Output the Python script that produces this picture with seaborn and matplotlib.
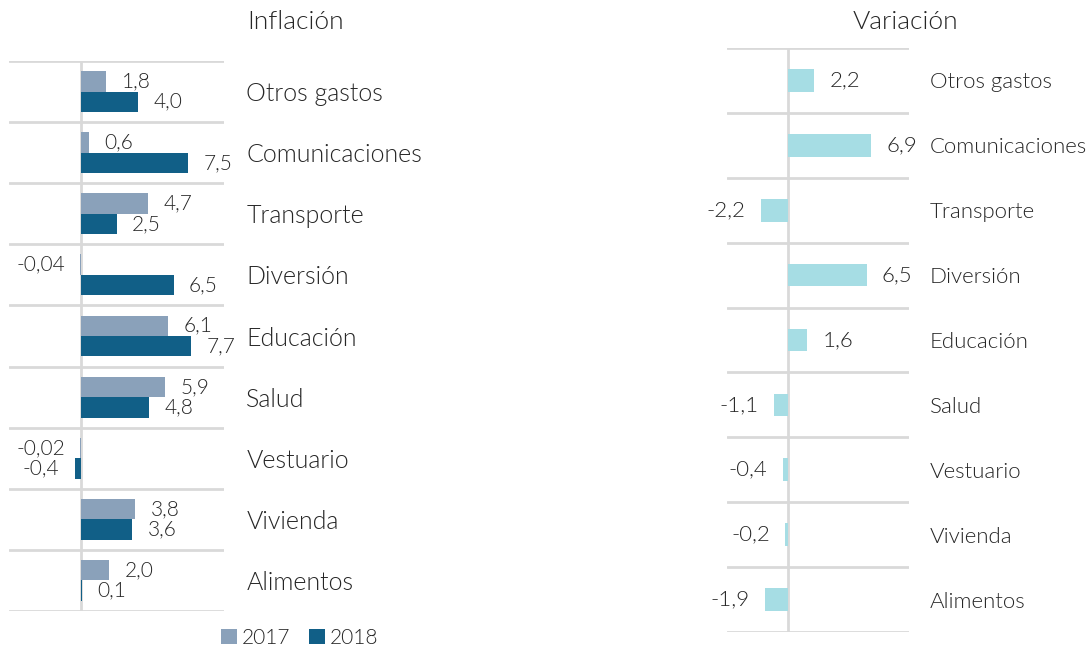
import matplotlib
matplotlib.use("Agg")
from matplotlib import pyplot as plt
import seaborn as sns
import pandas as pd

# categorias (de arriba hacia abajo)
categorias = ["Otros gastos", "Comunicaciones", "Transporte", "Diversión", "Educación",
              "Salud", "Vestuario", "Vivienda", "Alimentos"]
inflacion_2017 = [1.8, 0.6, 4.7, -0.04, 6.1, 5.9, -0.02, 3.8, 2.0]
inflacion_2018 = [4.0, 7.5, 2.5, 6.5, 7.7, 4.8, -0.4, 3.6, 0.1]
variacion = [2.2, 6.9, -2.2, 6.5, 1.6, -1.1, -0.4, -0.2, -1.9]
anios = ["2017", "2018"]

color_2017 = "#8aa1ba"
color_2018 = "#115f87"
color_var = "#a6dde4"
color_grid = "#d9d9d9"
color_text = "#262626"
peso = 300  # Lato Light

sns.set_style("white")
plt.rcParams["font.family"] = ["Lato", "DejaVu Sans"]
plt.rcParams["font.weight"] = peso
plt.rcParams["text.color"] = color_text


def fmt(v):
    # formato con coma decimal, dos decimales si el valor es muy pequeño
    if round(v, 1) == 0 and v != 0:
        s = f"{v:.2f}"
    else:
        s = f"{v:.1f}"
    return s.replace(".", ",")


df_inf = pd.DataFrame({
    "categoria": categorias * 2,
    "valor": inflacion_2017 + inflacion_2018,
    "anio": [anios[0]] * len(categorias) + [anios[1]] * len(categorias),
})
df_var = pd.DataFrame({"categoria": categorias, "valor": variacion})

fig = plt.figure(figsize=(10.88, 6.48), dpi=100)
ax1 = fig.add_axes([9 / 1088, 1 - 611 / 648, 215 / 1088, 550 / 648])
ax2 = fig.add_axes([727 / 1088, 1 - 632 / 648, 182 / 1088, 584 / 648])

sns.barplot(data=df_inf, x="valor", y="categoria", hue="anio", orient="h",
            palette=[color_2017, color_2018], width=0.67, linewidth=0,
            saturation=1, ax=ax1)
sns.barplot(data=df_var, x="valor", y="categoria", orient="h", color=color_var,
            width=0.35, linewidth=0, saturation=1, ax=ax2)

for ax, size_lab, size_val in [(ax1, 18, 15), (ax2, 16, 16)]:
    ax.set_xlim(-5, 10)
    ax.set_ylim(len(categorias) - 0.5, -0.5)
    ax.set_xlabel("")
    ax.set_ylabel("")
    ax.set_xticks([])
    ax.yaxis.tick_right()
    ax.tick_params(axis="y", length=0, pad=16 if ax is ax1 else 15, labelsize=size_lab,
                   colors=color_text)
    for lab in ax.get_yticklabels():
        lab.set_fontweight(peso)
    # lineas separadoras entre categorias
    ax.set_yticks([i - 0.5 for i in range(len(categorias) + 1)], minor=True)
    ax.grid(True, which="minor", axis="y", color=color_grid, linewidth=2)
    ax.tick_params(axis="y", which="minor", length=0)
    ax.axvline(0, color=color_grid, linewidth=2, zorder=0)
    for s in ax.spines.values():
        s.set_visible(False)
    for cont in ax.containers:
        ax.bar_label(cont, labels=[fmt(v) for v in cont.datavalues], padding=11,
                     fontsize=size_val, fontweight=peso, color=color_text)

sns.move_legend(ax1, "center", bbox_to_anchor=(1.353, -0.049), ncol=2, frameon=False,
                title=None, fontsize=15, handlelength=0.75, handleheight=0.75,
                handletextpad=0.25, columnspacing=0.9)
for t in ax1.get_legend().get_texts():
    t.set_fontweight(peso)

fig.text(296 / 1088, 1 - 22 / 648, "Inflación", ha="center", va="center", fontsize=19,
         fontweight=peso)
fig.text(905 / 1088, 1 - 22 / 648, "Variación", ha="center", va="center", fontsize=19,
         fontweight=peso)

fig.savefig("out.png", dpi=100)
